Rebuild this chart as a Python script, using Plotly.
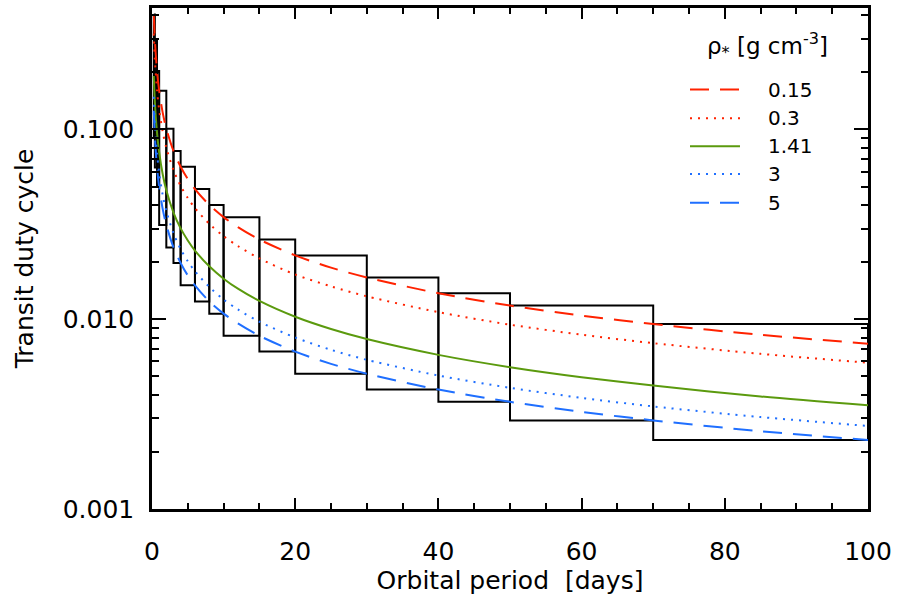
import plotly.graph_objects as go

# ---------------- data ----------------
periods = [0.25, 0.4, 0.7, 1, 1.5, 2, 3, 4, 5, 6, 8, 10, 12, 15, 20, 25, 30,
           40, 50, 60, 70, 85, 100]

duty_rho_015 = [0.4036, 0.2950, 0.2031, 0.1601, 0.1222, 0.1009, 0.0770, 0.0636,
                0.0548, 0.0485, 0.0400, 0.0345, 0.0306, 0.0263, 0.0217, 0.0187,
                0.0166, 0.0137, 0.0118, 0.01045, 0.00943, 0.00828, 0.00743]
duty_rho_03 = [0.3203, 0.2341, 0.1612, 0.1271, 0.0970, 0.0801, 0.0611, 0.0504,
               0.0435, 0.0385, 0.0318, 0.0274, 0.0243, 0.0209, 0.0172, 0.0149,
               0.0132, 0.0109, 0.00936, 0.00829, 0.00748, 0.00657, 0.00590]
duty_rho_141 = [0.1913, 0.1398, 0.0962, 0.0759, 0.0579, 0.0478, 0.0365, 0.0301,
                0.0260, 0.0230, 0.0190, 0.01635, 0.01448, 0.01248, 0.01030,
                0.00888, 0.00786, 0.00649, 0.00559, 0.00495, 0.00447, 0.00392,
                0.00352]
duty_rho_3 = [0.1487, 0.1087, 0.0748, 0.0590, 0.0450, 0.0372, 0.0284, 0.0234,
              0.0202, 0.0179, 0.0148, 0.0127, 0.01126, 0.00970, 0.00801,
              0.00690, 0.00611, 0.00505, 0.00435, 0.00385, 0.00347, 0.00305,
              0.00274]
duty_rho_5 = [0.1254, 0.0917, 0.0631, 0.0498, 0.0380, 0.0314, 0.0239, 0.0198,
              0.0170, 0.0151, 0.0124, 0.0107, 0.00950, 0.00818, 0.00675,
              0.00582, 0.00516, 0.00426, 0.00367, 0.00325, 0.00293, 0.00257,
              0.00231]

rho_labels = ["0.15", "0.3", "1.41", "3", "5"]

bin_edges = [0.25, 0.4, 0.7, 1, 2, 3, 4, 6, 8, 10, 15, 20, 30, 40, 50, 70, 100]
box_top = [0.4036, 0.2950, 0.2031, 0.1601, 0.1009, 0.0770, 0.0636, 0.0485,
           0.0400, 0.0345, 0.0263, 0.0217, 0.0166, 0.0137, 0.0118, 0.00943]
box_bottom = [0.0917, 0.0631, 0.0498, 0.0314, 0.0239, 0.0198, 0.0151, 0.0124,
              0.0107, 0.00818, 0.00675, 0.00516, 0.00426, 0.00367, 0.00293,
              0.00231]

x_ticks = [0, 20, 40, 60, 80, 100]
y_ticks = [0.001, 0.01, 0.1]
y_ticktext = ["0.001", "0.010", "0.100"]

# ---------------- styles ----------------
RED = "#FF2200"
GREEN = "#5B9A0E"
BLUE = "#1F6FFF"
DASH = "19px,11px"
DOT = "2px,6px"
FONT = "DejaVu Sans"

series = [
    (duty_rho_015, RED, DASH),
    (duty_rho_03, RED, DOT),
    (duty_rho_141, GREEN, "solid"),
    (duty_rho_3, BLUE, DOT),
    (duty_rho_5, BLUE, DASH),
]

fig = go.Figure()

# boxes
bx, by = [], []
for i in range(len(box_top)):
    x0, x1 = bin_edges[i], bin_edges[i + 1]
    bx += [x0, x1, x1, x0, x0, None]
    by += [box_top[i], box_top[i], box_bottom[i], box_bottom[i], box_top[i], None]
fig.add_trace(go.Scatter(x=bx, y=by, mode="lines",
                         line=dict(color="black", width=2),
                         showlegend=False, hoverinfo="skip"))

for (vals, col, dash), lab in zip(series, rho_labels):
    fig.add_trace(go.Scatter(x=periods, y=vals, mode="lines", name=lab,
                             line=dict(color=col, width=2, dash=dash,
                                       shape="spline", smoothing=0.8),
                             showlegend=False))

# manual legend (paper coordinates)
leg_x0, leg_x1, leg_tx = 0.7514, 0.8212, 0.8575
leg_y = [0.8373, 0.7798, 0.7242, 0.6687, 0.6111]
for (vals, col, dash), lab, yy in zip(series, rho_labels, leg_y):
    fig.add_shape(type="line", xref="paper", yref="paper",
                  x0=leg_x0, x1=leg_x1, y0=yy, y1=yy,
                  line=dict(color=col, width=2, dash=dash))
    fig.add_annotation(xref="paper", yref="paper", x=leg_tx, y=yy,
                       xanchor="left", yanchor="middle", showarrow=False,
                       text=lab, font=dict(family=FONT, size=20, color="black"))
fig.add_annotation(xref="paper", yref="paper", x=0.7725, y=0.925,
                   xanchor="left", yanchor="middle", showarrow=False,
                   text="ρ<sub>*</sub> [g cm<sup>-3</sup>]",
                   font=dict(family=FONT, size=23, color="black"))

axis_common = dict(showline=True, linecolor="black", linewidth=2.5,
                   mirror="ticks", showgrid=False, zeroline=False,
                   ticks="inside", tickcolor="black", tickwidth=2,
                   tickfont=dict(family=FONT, size=25, color="black"))

minor_y = [m * 10 ** e for e in (-3, -2, -1) for m in range(2, 10)]

fig.update_layout(
    width=899, height=602,
    margin=dict(l=152, r=31, t=5, b=93),
    paper_bgcolor="white", plot_bgcolor="white",
    xaxis=dict(range=[0, 100], tickmode="array", tickvals=x_ticks,
               ticklen=11, ticklabelstandoff=18,
               minor=dict(ticks="inside", ticklen=6, tickwidth=2,
                          dtick=5, tick0=0, tickcolor="black"),
               title=dict(text="Orbital period\u00a0 [days]",
                          font=dict(family=FONT, size=25, color="black"),
                          standoff=6),
               **axis_common),
    yaxis=dict(type="log", range=[-3, -0.36], tickmode="array",
               tickvals=y_ticks, ticktext=y_ticktext,
               ticklen=14, ticklabelstandoff=10,
               minor=dict(ticks="inside", ticklen=7, tickwidth=2,
                          tickmode="array", tickvals=minor_y,
                          tickcolor="black"),
               title=dict(text="Transit duty cycle",
                          font=dict(family=FONT, size=25, color="black"),
                          standoff=22),
               **axis_common),
)

fig.write_html("out.html",
               config={"displayModeBar": False},
               post_script="document.body.style.margin='0px';")
